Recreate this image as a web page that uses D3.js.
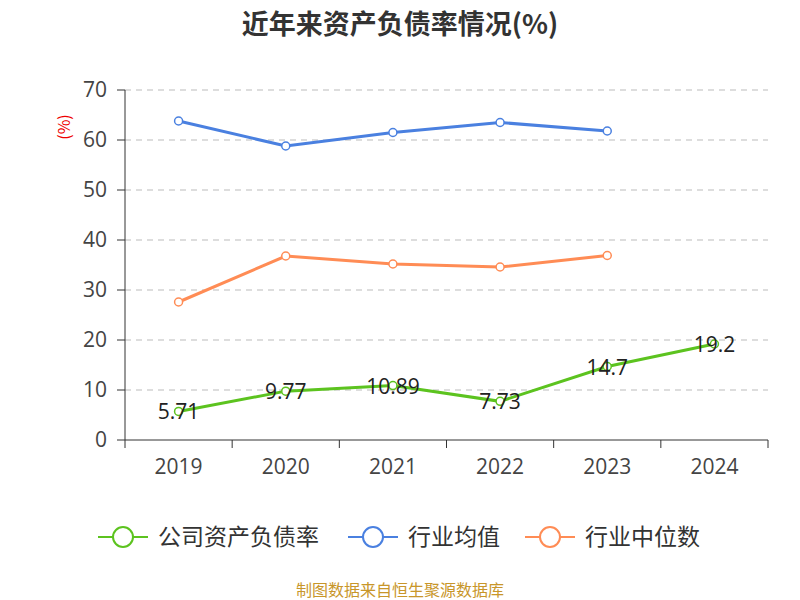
<!DOCTYPE html><html><head><meta charset="utf-8"><script src="https://cdn.jsdelivr.net/npm/d3@7"></script>
<style>body{margin:0;background:#fff}text{font-family:"Noto Sans CJK SC","Noto Sans",sans-serif}.n{font-family:"Open Sans","Noto Sans",sans-serif}</style></head><body>
<svg id="c" width="800" height="600"></svg>
<script>
const categories=["2019","2020","2021","2022","2023","2024"];
const company=[5.71,9.77,10.89,7.73,14.7,19.2];
const industryAvg=[63.8,58.8,61.5,63.5,61.8];
const industryMedian=[27.6,36.8,35.2,34.6,36.9];
const yTicks=[0,10,20,30,40,50,60,70];
const seriesNames=["公司资产负债率","行业均值","行业中位数"];
const colors=["#5cc31f","#4a80e0","#ff8c55"];
const svg=d3.select("#c");
const x=d3.scaleBand().domain(categories).range([125,768]);
const y=d3.scaleLinear().domain([0,70]).range([440,90]);
svg.append("text").attr("x",400).attr("y",34).attr("text-anchor","middle").attr("font-size",27).attr("font-weight","bold").attr("fill","#333").text("近年来资产负债率情况(%)");
svg.append("text").attr("transform","translate(70,127) rotate(-90)").attr("text-anchor","middle").attr("font-size",16).attr("fill","#e00").text("(%)");
yTicks.forEach(t=>{
 if(t>0)svg.append("line").attr("x1",125).attr("x2",768).attr("y1",y(t)).attr("y2",y(t)).attr("stroke","#bbb").attr("stroke-dasharray","6,5");
 svg.append("line").attr("x1",117).attr("x2",125).attr("y1",y(t)).attr("y2",y(t)).attr("stroke","#333");
 svg.append("text").attr("class","n").attr("x",107).attr("y",y(t)+7).attr("text-anchor","end").attr("font-size",21).attr("fill","#444").text(t);
});
svg.append("line").attr("x1",125).attr("x2",125).attr("y1",90).attr("y2",440).attr("stroke","#333");
svg.append("line").attr("x1",125).attr("x2",768).attr("y1",440).attr("y2",440).attr("stroke","#333");
[...categories.map(c=>x(c)),768].forEach(v=>svg.append("line").attr("x1",v).attr("x2",v).attr("y1",440).attr("y2",448).attr("stroke","#333"));
categories.forEach(c=>svg.append("text").attr("class","n").attr("x",x(c)+x.bandwidth()/2).attr("y",474).attr("text-anchor","middle").attr("font-size",21).attr("fill","#444").text(c));
const cx=i=>x(categories[i])+x.bandwidth()/2;
const line=d3.line().x((d,i)=>cx(i)).y(d=>y(d));
[company,industryAvg,industryMedian].forEach((s,k)=>{
 svg.append("path").attr("d",line(s)).attr("fill","none").attr("stroke",colors[k]).attr("stroke-width",3);
 s.forEach((d,i)=>svg.append("circle").attr("cx",cx(i)).attr("cy",y(d)).attr("r",4).attr("fill","#fff").attr("stroke",colors[k]).attr("stroke-width",1.5));
});
company.forEach((d,i)=>svg.append("text").attr("class","n").attr("x",cx(i)).attr("y",y(d)+8).attr("text-anchor","middle").attr("font-size",21).attr("fill","#222").text(d));
const lx=[98,348,525];
seriesNames.forEach((n,k)=>{
 svg.append("line").attr("x1",lx[k]).attr("x2",lx[k]+50).attr("y1",537).attr("y2",537).attr("stroke",colors[k]).attr("stroke-width",2);
 svg.append("circle").attr("cx",lx[k]+25).attr("cy",537).attr("r",10).attr("fill","#fff").attr("stroke",colors[k]).attr("stroke-width",2);
 svg.append("text").attr("x",lx[k]+60).attr("y",545).attr("font-size",23).attr("fill","#333").text(n);
});
svg.append("text").attr("x",400).attr("y",596).attr("text-anchor","middle").attr("font-size",16).attr("fill","#c8962a").text("制图数据来自恒生聚源数据库");
</script></body></html>
